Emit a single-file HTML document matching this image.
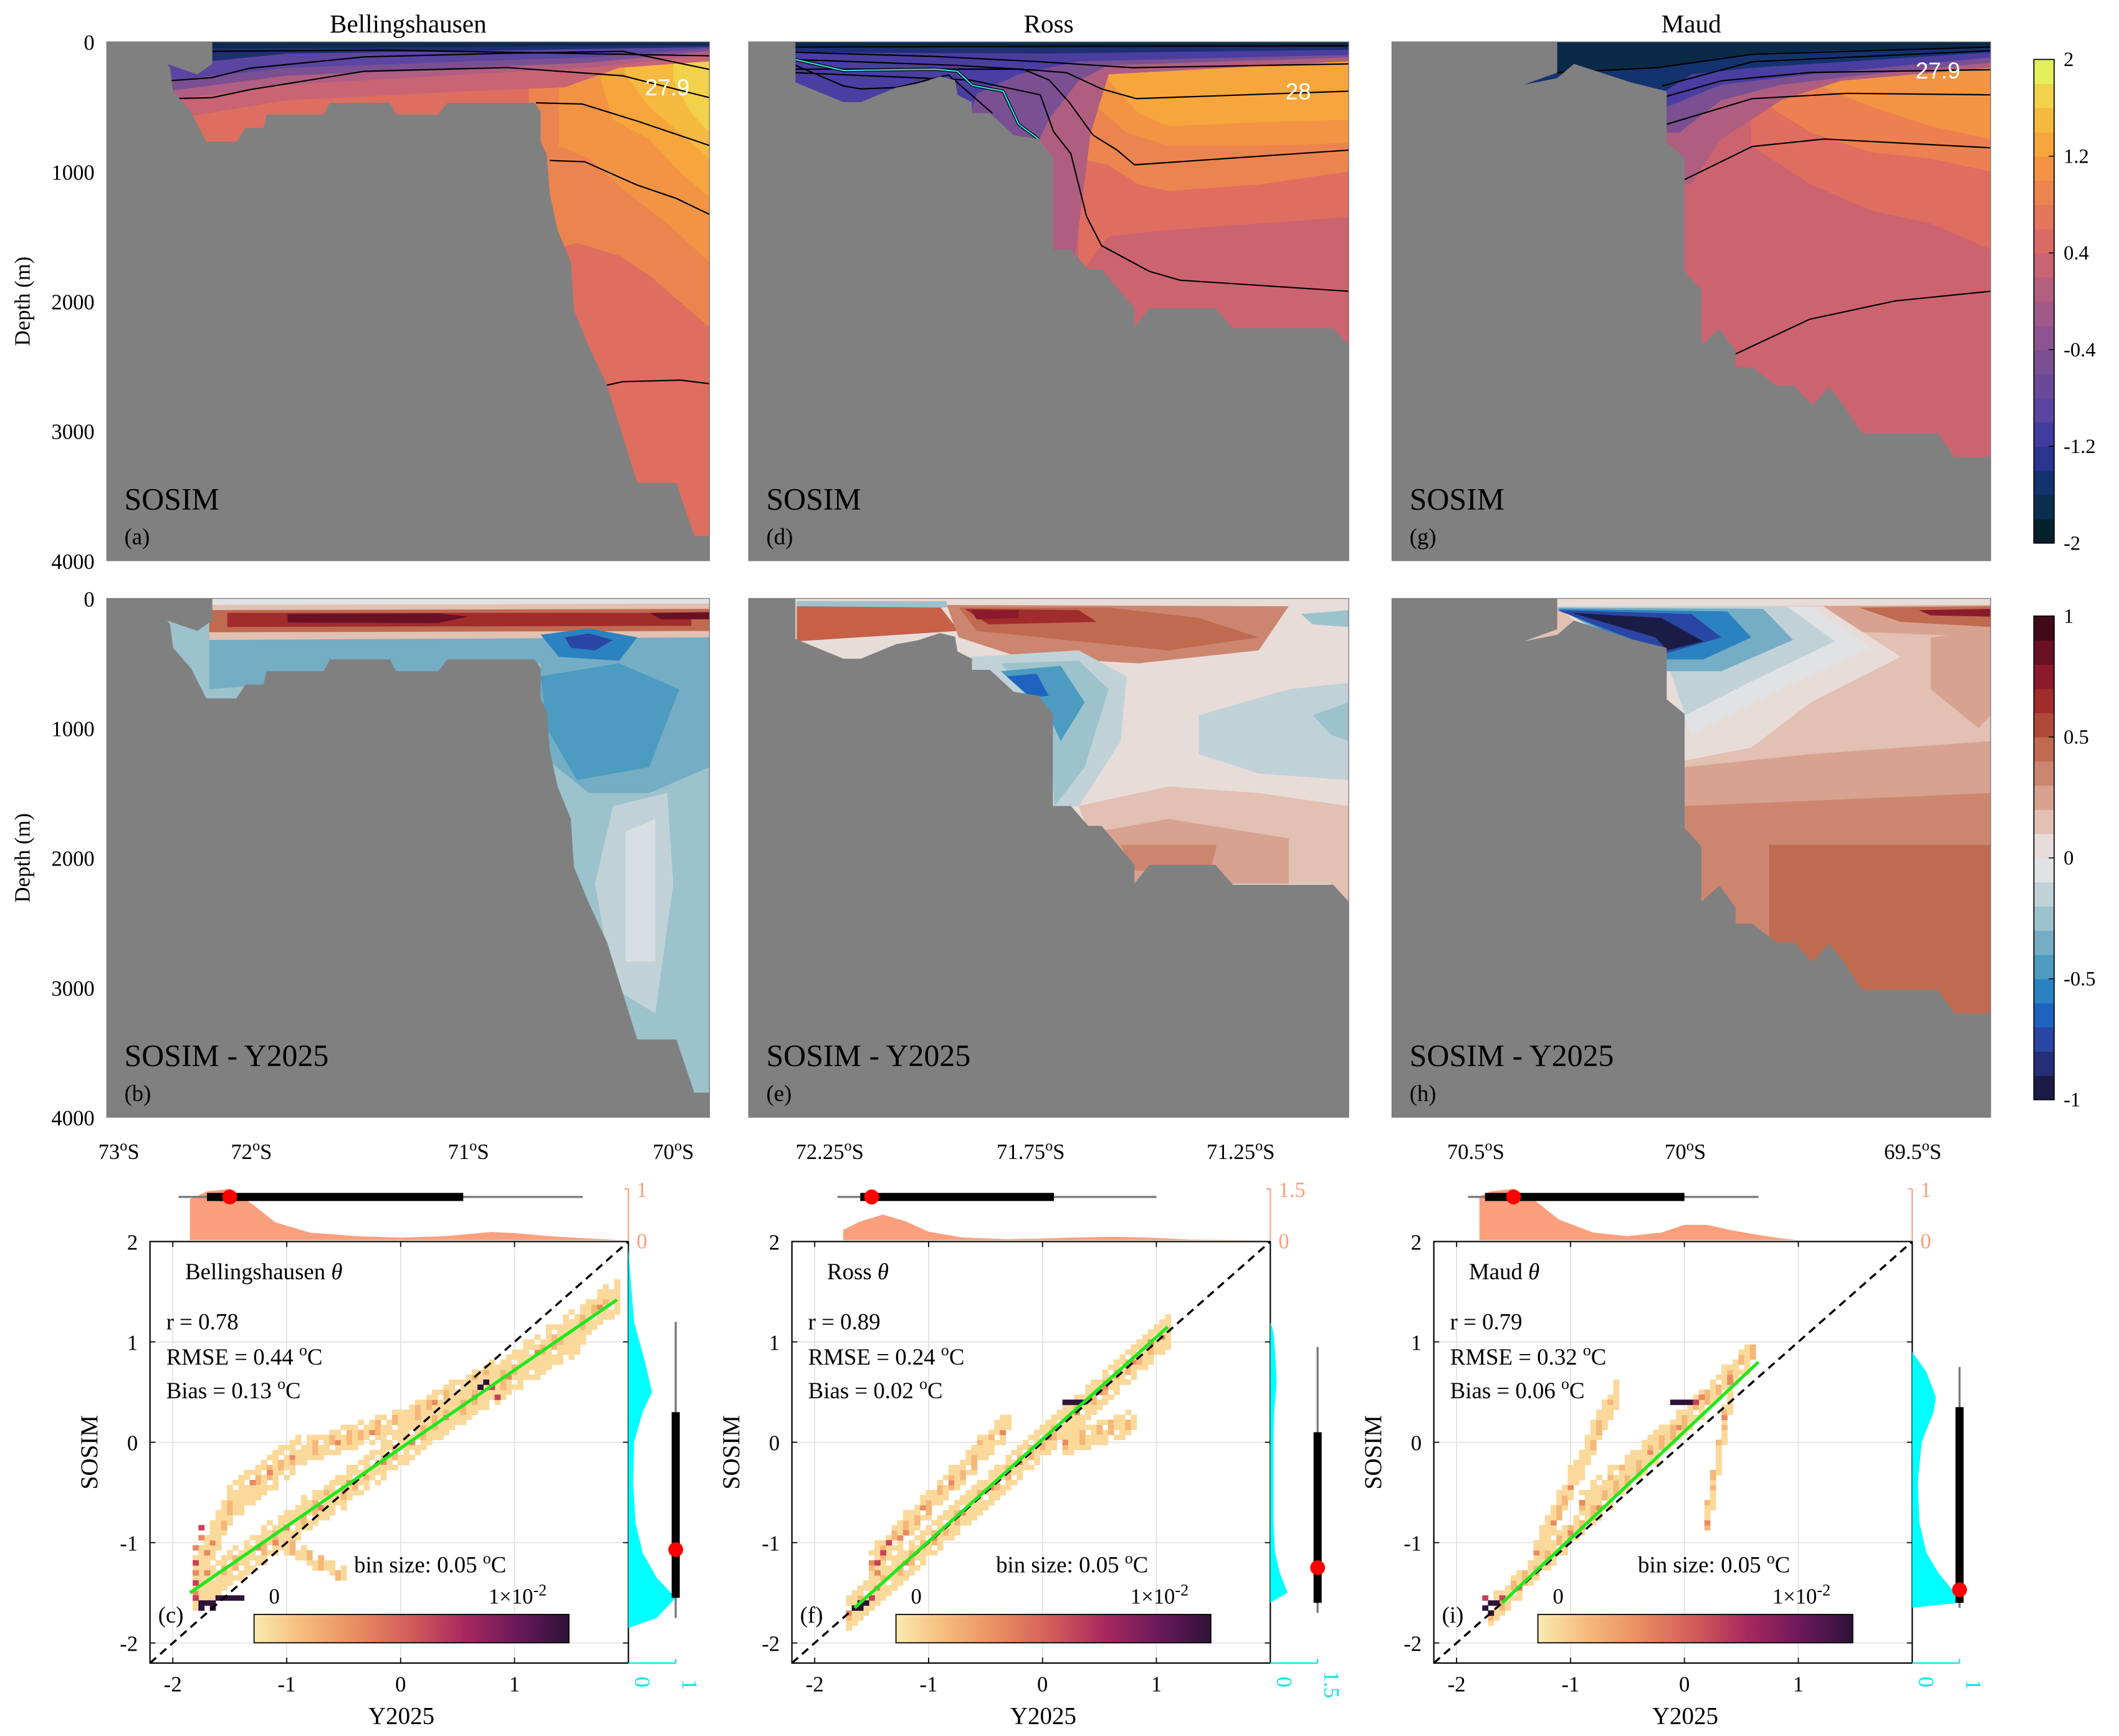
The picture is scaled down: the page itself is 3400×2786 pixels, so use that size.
<!DOCTYPE html>
<html><head><meta charset="utf-8"><title>SOSIM vs Y2025 sections</title>
<style>
html,body{margin:0;padding:0;background:#fff;}
svg{display:block;font-family:"Liberation Serif","DejaVu Serif",serif;}
</style></head>
<body>
<svg id="fig" xmlns="http://www.w3.org/2000/svg" width="3400" height="2786" viewBox="0 0 1568 1285" preserveAspectRatio="none"></svg>
<script>
// ---------------- DATA ----------------
const sectionNames = ["Bellingshausen","Ross","Maud"];
const latTicks = [["73","72","71","70"],["72.25","71.75","71.25"],["70.5","70","69.5"]];
const latTickFx = [[0.02,0.24,0.6,0.94],[0.135,0.47,0.82],[0.14,0.49,0.87]];
const depthTicks = [0,1000,2000,3000,4000];
const thetaCbarLabels = ["2","1.2","0.4","-0.4","-1.2","-2"];
const diffCbarLabels = ["1","0.5","0","-0.5","-1"];
const thermal = ["#04202c","#0a2e4e","#13336e","#2a3590","#423ba0","#5a45a0","#6a4a98","#7a5092","#8c5490","#a05a8a","#b45e80","#c86474","#d96a66","#e4765c","#ec8450","#f29444","#f6a63c","#f6ba40","#f1d24a","#e4f05a"];
const balance = ["#1a1c46","#262e78","#2a46a4","#1c64c0","#2a82c0","#4c9bc0","#74adc4","#9cc2cc","#c0d2d8","#e0e2e4","#e8dcd8","#e2c0b2","#d8a290","#cc8670","#c06a50","#b04a38","#a02c2c","#8a1a2c","#6a1024","#420a18"];

const bathyBell = [[0,0],[0.175,0],[0.175,170],[0.15,250],[0.10,170],[0.105,200],[0.11,380],[0.14,540],[0.165,770],[0.215,770],[0.23,665],[0.26,665],[0.265,560],[0.36,560],[0.37,470],[0.47,470],[0.48,560],[0.55,560],[0.565,470],[0.71,470],[0.72,540],[0.72,770],[0.73,870],[0.735,1170],[0.748,1450],[0.77,1700],[0.775,2070],[0.8,2350],[0.83,2650],[0.88,3400],[0.945,3400],[0.975,3810],[1,3810],[1,4000],[0,4000]];
const bathyRoss = [[0,0],[0.078,0],[0.078,312],[0.158,465],[0.187,465],[0.246,352],[0.282,323],[0.319,267],[0.344,295],[0.348,408],[0.372,465],[0.372,550],[0.402,550],[0.442,720],[0.483,749],[0.507,890],[0.507,1600],[0.537,1600],[0.566,1753],[0.588,1753],[0.643,2054],[0.643,2196],[0.668,2054],[0.778,2054],[0.807,2207],[0.974,2207],[1,2338],[1,4000],[0,4000]];
const bathyMaud = [[0,0],[0.276,0],[0.276,238],[0.22,330],[0.276,280],[0.304,170],[0.399,312],[0.459,380],[0.459,777],[0.489,891],[0.489,1770],[0.517,1912],[0.517,2338],[0.547,2213],[0.574,2383],[0.574,2508],[0.602,2508],[0.642,2650],[0.672,2650],[0.702,2803],[0.730,2660],[0.753,2791],[0.785,3018],[0.912,3018],[0.940,3200],[1,3200],[1,4000],[0,4000]];
const bathy = [bathyBell,bathyRoss,bathyMaud];

const thetaBase = ["#dd6e60","#cc6470","#cc6470"];
const thetaLayersBell = [
 ["#ec8450",[[0.70,450],[0.74,1600],[0.78,1550],[0.85,1650],[0.9,1800],[0.95,2000],[1,2200]]],
 ["#f29444",[[0.75,450],[0.75,800],[0.8,900],[0.86,1150],[0.93,1400],[1,1700]]],
 ["#f6a63c",[[0.82,300],[0.84,600],[0.9,750],[0.95,1000],[1,1200]]],
 ["#f6ba40",[[0.86,250],[0.9,500],[0.95,700],[1,900]]],
 ["#f1d24a",[[0.94,300],[0.97,550],[1,700]]],
 ["#c86474",[[0.1,600],[0.3,450],[0.6,380],[0.76,350],[0.85,200],[1,150]]],
 ["#b05e82",[[0.1,450],[0.3,330],[0.6,250],[0.8,200],[1,100]]],
 ["#7a5092",[[0.1,380],[0.3,260],[0.6,200],[0.8,160],[1,70]]],
 ["#5a45a0",[[0.1,300],[0.3,200],[0.6,150],[0.8,120],[1,50]]],
 ["#1e2f72",[[0.17,150],[0.3,90],[0.6,70],[1,40]]],
 ["#0e2a50",[[0.17,50],[0.6,40],[1,25]]]];
const thetaLayersRoss = [
 ["#df6e60",[[0.55,1800],[0.6,1500],[0.7,1450],[0.85,1400],[1,1350]]],
 ["#ec8450",[[0.55,900],[0.6,950],[0.65,1100],[0.7,1150],[0.85,1100],[1,1000]]],
 ["#f29444",[[0.58,500],[0.63,700],[0.7,800],[0.85,800],[1,780]]],
 ["#f6a63c",[[0.6,300],[0.65,550],[0.7,650],[0.85,620],[1,600]]],
 ["#b05e80",[[0.05,1800],[0.54,1800],[0.57,700],[0.6,250],[1,150]]],
 ["#7a5092",[[0.05,1000],[0.46,1000],[0.5,600],[0.55,300],[0.6,180],[1,120]]],
 ["#4a3ea0",[[0.05,700],[0.36,700],[0.38,400],[0.45,250],[0.55,150],[1,100]]],
 ["#1e2f72",[[0.05,80],[0.5,90],[1,60]]],
 ["#0a2a48",[[0.05,30],[1,40]]]];
const thetaLayersMaud = [
 ["#df6e60",[[0.6,800],[0.7,1100],[0.8,1300],[0.9,1400],[1,1600]]],
 ["#ec8050",[[0.63,500],[0.7,700],[0.8,850],[0.9,900],[1,1000]]],
 ["#f29444",[[0.72,350],[0.8,500],[0.9,650],[1,750]]],
 ["#b05e80",[[0,1100],[0.5,1100],[0.55,750],[0.6,600],[0.65,450],[0.75,300],[1,200]]],
 ["#7a5092",[[0,700],[0.48,700],[0.55,450],[0.65,330],[0.8,250],[1,160]]],
 ["#4a3ea0",[[0,500],[0.46,500],[0.55,330],[0.7,250],[1,120]]],
 ["#13336e",[[0,400],[0.45,400],[0.5,250],[0.6,200],[1,80]]],
 ["#0a2a48",[[0,300],[0.45,200],[0.55,120],[0.7,70],[1,40]]]];
const thetaLayers = [thetaLayersBell,thetaLayersRoss,thetaLayersMaud];

const contoursBell = [
 [[0.175,73],[0.46,64],[1,107]],
 [[0.106,299],[0.174,276],[0.237,203],[0.427,116],[0.665,87],[0.856,73],[1,212]],
 [[0.118,436],[0.174,430],[0.237,369],[0.427,227],[0.665,198],[0.856,261],[1,430]],
 [[0.712,470],[0.789,479],[0.88,610],[1,799]],
 [[0.735,915],[0.793,924],[0.88,1104],[0.944,1205],[1,1330]],
 [[0.828,2649],[0.856,2620],[0.952,2608],[1,2635]]];
const contoursRoss = [
 [[0.078,40],[1,30]],
 [[0.078,80],[0.311,113],[0.486,153],[0.639,199],[1,170]],
 [[0.078,136],[0.348,181],[0.486,221],[0.53,238],[0.588,363],[0.646,437],[1,380]],
 [[0.078,210],[0.457,210],[0.501,295],[0.534,465],[0.574,720],[0.614,834],[0.643,948],[1,834]],
 [[0.078,238],[0.37,295],[0.486,408],[0.508,692],[0.537,862],[0.563,1345],[0.588,1571],[0.668,1770],[0.719,1838],[1,1923]],
 [[0.078,181],[0.158,340],[0.187,363],[0.246,352],[0.333,255],[0.406,550]]];
const contoursMaud = [
 [[0.276,238],[0.443,199],[0.602,96],[1,40]],
 [[0.451,340],[0.602,153],[1,68]],
 [[0.459,420],[0.55,300],[0.7,235],[1,215]],
 [[0.459,635],[0.602,437],[0.761,397],[1,408]],
 [[0.489,1061],[0.602,806],[0.722,749],[1,817]],
 [[0.574,2406],[0.698,2139],[0.841,1997],[1,1923]]];
const contours = [contoursBell,contoursRoss,contoursMaud];
const cyanContourRoss = [[0.078,136],[0.158,221],[0.311,210],[0.348,227],[0.373,335],[0.424,380],[0.45,635],[0.483,749]];
const isoLabels = ["27.9","28","27.9"];
const isoLabelPos = [[0.93,350],[0.916,380],[0.912,221]];

const diffBase = ["#9cc2cc","#e8dcd8","#e2c0b2"];
const diffShapesBell = [
 ["#74adc4",[[0.17,250],[1,250],[1,1300],[0.9,1500],[0.8,1500],[0.72,1200],[0.72,500],[0.17,700]]],
 ["#4c9bc0",[[0.72,600],[0.85,500],[0.95,700],[0.9,1300],[0.78,1400],[0.73,1000]]],
 ["#c0d2d8",[[0.84,1600],[0.93,1500],[0.94,2200],[0.91,3200],[0.84,3000],[0.81,2200]]],
 ["#d8dee2",[[0.86,1800],[0.91,1700],[0.91,2800],[0.86,2800]]],
 ["#e0e2e4",[[0.17,0],[1,0],[1,60],[0.17,60]]],
 ["#e2c0b2",[[0.17,50],[1,40],[1,300],[0.17,320]]],
 ["#c06a50",[[0.17,90],[1,80],[1,250],[0.17,260]]],
 ["#a02c2c",[[0.2,110],[0.97,110],[0.97,210],[0.2,220]]],
 ["#6a1024",[[0.3,120],[0.55,115],[0.6,140],[0.55,190],[0.3,185]]],
 ["#6a1024",[[0.9,110],[1,105],[1,160],[0.92,160]]],
 ["#2a82c0",[[0.72,280],[0.8,230],[0.88,300],[0.85,480],[0.75,450]]],
 ["#2a46a4",[[0.76,300],[0.8,270],[0.84,320],[0.81,400],[0.77,380]]]];
const diffShapesRoss = [
 ["#9cc2cc",[[0.08,20],[0.33,20],[0.33,70],[0.08,70]]],
 ["#c86048",[[0.08,60],[0.32,70],[0.35,250],[0.08,330]]],
 ["#cc8670",[[0.33,50],[0.9,60],[0.85,400],[0.65,500],[0.45,450],[0.35,300]]],
 ["#c06a50",[[0.35,70],[0.6,70],[0.75,150],[0.85,300],[0.7,400],[0.55,330],[0.38,250]]],
 ["#a02c2c",[[0.36,80],[0.55,90],[0.58,180],[0.4,200]]],
 ["#8a1a2c",[[0.37,90],[0.45,90],[0.45,150],[0.38,160]]],
 ["#c0d2d8",[[0.37,450],[0.55,400],[0.63,600],[0.62,1100],[0.55,1600],[0.5,1600],[0.37,600]]],
 ["#9cc2cc",[[0.42,500],[0.55,480],[0.6,700],[0.56,1300],[0.51,1600],[0.5,900]]],
 ["#4c9bc0",[[0.42,560],[0.52,520],[0.56,800],[0.52,1100],[0.5,900]]],
 ["#1c64c0",[[0.43,600],[0.48,580],[0.5,750],[0.47,760]]],
 ["#c0d2d8",[[0.75,900],[0.9,700],[1,650],[1,1400],[0.85,1350],[0.75,1200]]],
 ["#9cc2cc",[[0.94,900],[1,800],[1,1100],[0.97,1050]]],
 ["#9cc2cc",[[0.92,120],[1,90],[1,220],[0.94,200]]],
 ["#e2c0b2",[[0.55,1600],[0.7,1450],[0.85,1500],[1,1600],[1,2400],[0.97,2200],[0.6,2200]]],
 ["#d8a290",[[0.58,1800],[0.7,1700],[0.9,1850],[0.9,2200],[0.6,2200]]],
 ["#cc8670",[[0.62,1900],[0.78,1900],[0.77,2100],[0.64,2100]]]];
const diffShapesMaud = [
 ["#e8dcd8",[[0.276,0],[1,0],[1,60],[0.276,60]]],
 ["#d8a290",[[0.6,60],[1,50],[1,300],[0.75,250]]],
 ["#c06a50",[[0.78,70],[1,60],[1,220],[0.85,180]]],
 ["#8a1a2c",[[0.88,90],[1,80],[1,140],[0.9,130]]],
 ["#d8a290",[[0.9,300],[1,250],[1,900],[0.98,1000],[0.9,700]]],
 ["#e8dcd8",[[0.276,60],[0.72,60],[0.85,450],[0.7,800],[0.6,1150],[0.489,1250],[0.489,900]]],
 ["#e0e2e4",[[0.276,60],[0.7,60],[0.8,380],[0.65,700],[0.5,1050],[0.46,500]]],
 ["#c0d2d8",[[0.276,60],[0.66,60],[0.74,330],[0.6,640],[0.49,900],[0.46,500]]],
 ["#74adc4",[[0.276,70],[0.62,80],[0.67,320],[0.55,560],[0.46,560]]],
 ["#2a82c0",[[0.276,80],[0.56,100],[0.6,300],[0.52,470],[0.46,470]]],
 ["#2a46a4",[[0.276,90],[0.5,120],[0.55,300],[0.46,420]]],
 ["#1a1c46",[[0.3,110],[0.45,150],[0.52,330],[0.46,400],[0.44,300]]],
 ["#d8a290",[[0.489,1300],[0.7,1200],[1,1100],[1,1500],[0.489,1600]]],
 ["#cc8670",[[0.489,1600],[1,1500],[1,3300],[0.489,3300]]],
 ["#c06a50",[[0.63,1900],[1,1900],[1,3300],[0.63,3300]]]];
const diffShapes = [diffShapesBell,diffShapesRoss,diffShapesMaud];

const statR = ["0.78","0.89","0.79"];
const statRMSE = ["0.44","0.24","0.32"];
const statBias = ["0.13","0.02","0.06"];
const fitLines = [[-1.85,-1.5,1.9,1.42],[-1.65,-1.65,1.1,1.15],[-1.6,-1.6,0.65,0.8]];
const tracksBell = [[-1.8,-1.5,1.9,1.45,3,0],[-1.8,-1.35,-1.5,-0.6,3,0],[-1.5,-0.6,-0.9,-0.1,3,0],[-0.9,-0.1,0.0,0.2,2,0],[0.0,0.2,0.8,0.7,2,0],[-1.1,-1.0,-0.5,-1.3,1,0],[0.3,0.2,1.6,1.1,3,0]];
const tracksRoss = [[-1.7,-1.7,1.1,1.1,3,0],[-1.5,-1.2,-0.3,0.2,2,0],[0.2,0.0,0.8,0.2,2,0]];
const tracksMaud = [[-1.7,-1.7,0.6,0.9,2,0],[-1.3,-1.1,-0.6,0.5,2,0],[0.2,-0.8,0.4,0.5,1,0],[-0.9,-0.6,0.0,0.2,2,0]];
const tracks = [tracksBell,tracksRoss,tracksMaud];
const hotBell = [[-1.75,-1.6,4],[-1.7,-1.6,4],[-1.65,-1.6,4],[-1.6,-1.55,4],[-1.55,-1.55,4],[-1.5,-1.55,4],[-1.45,-1.55,4],[-1.4,-1.55,4],[-1.75,-1.65,4],[-1.65,-1.65,4],[-1.8,-1.55,3],[-1.8,-1.4,3],[-1.8,-1.3,2],[-1.8,-1.2,3],[-1.8,-1.05,2],[-1.75,-0.85,3],[-1.75,-0.95,2],[-1.7,-1.3,2],[-1.7,-1.1,2],[0.7,0.55,4],[0.75,0.6,4],[0.85,0.45,3],[0.8,0.55,3],[-1.15,-0.3,2],[-1.3,-0.4,2]];
const hotRoss = [[-1.65,-1.65,4],[-1.6,-1.6,4],[-1.55,-1.6,4],[-1.6,-1.65,4],[-1.5,-1.55,3],[-1.45,-1.2,3],[-1.4,-1.1,3],[-1.35,-1.0,3],[-1.45,-1.3,2],[0.2,0.4,4],[0.25,0.4,4],[0.3,0.4,4],[0.35,0.4,4],[0.5,0.5,2],[0.95,1.0,2],[-1.2,-0.9,2]];
const hotMaud = [[-1.75,-1.65,4],[-1.7,-1.6,4],[-1.65,-1.6,4],[-1.7,-1.7,4],[-1.6,-1.55,3],[-1.75,-1.55,3],[-0.1,0.4,4],[-0.05,0.4,4],[0.0,0.4,4],[0.05,0.4,4],[0.1,0.4,3],[0.15,0.45,2],[0.4,0.6,2]];
const hotCells = [hotBell,hotRoss,hotMaud];
const densityColors = ["#fbd99a","#f5b878","#e88a60","#c83f5a","#2e1238"];

const topMaxLabel = ["1","1.5","1"];
const topMax = [1,1.5,1];
const rightMaxLabel = ["1","1.5","1"];
const rightMax = [1,1.5,1];
const topBox = [[-1.95,-1.7,-1.5,0.55,1.6],[-1.8,-1.6,-1.5,0.1,1.0],[-1.9,-1.75,-1.5,0.0,0.65]];
const rightBox = [[-1.75,-1.55,-1.07,0.3,1.2],[-1.7,-1.6,-1.25,0.1,0.95],[-1.65,-1.6,-1.47,0.35,0.75]];
const topDensX = [[-1.85,-1.7,-1.5,-1.3,-1.1,-0.8,-0.4,0,0.4,0.6,0.8,1.0,1.3,1.6,1.95],
                  [-1.75,-1.6,-1.4,-1.2,-1.0,-0.7,-0.3,0,0.3,0.6,0.9,1.1,1.3,1.95],
                  [-1.8,-1.7,-1.5,-1.3,-1.1,-0.8,-0.5,-0.2,0,0.2,0.4,0.6,0.8,1.0]];
const topDensV = [[0.8,0.95,1.0,0.7,0.35,0.15,0.08,0.05,0.08,0.12,0.16,0.14,0.08,0.04,0.0],
                  [0.3,0.55,0.75,0.55,0.25,0.08,0.03,0.05,0.08,0.1,0.08,0.05,0.02,0.0],
                  [0.85,0.95,1.0,0.75,0.4,0.15,0.08,0.15,0.3,0.3,0.2,0.12,0.05,0.0]];
const rightDensY = [[-1.85,-1.75,-1.55,-1.35,-1.1,-0.8,-0.4,0,0.3,0.5,0.8,1.2,1.6,1.95],
                    [-1.6,-1.5,-1.3,-1.1,-0.8,-0.4,0,0.3,0.6,0.9,1.1,1.2],
                    [-1.65,-1.6,-1.5,-1.3,-1.1,-0.8,-0.4,0,0.3,0.45,0.7,0.9]];
const rightDensV = [[0.0,0.6,1.0,0.6,0.3,0.15,0.1,0.12,0.3,0.5,0.35,0.12,0.05,0.0],
                    [0.0,0.55,0.3,0.15,0.1,0.1,0.1,0.12,0.2,0.15,0.1,0.0],
                    [0.0,1.0,0.9,0.55,0.3,0.15,0.12,0.2,0.45,0.5,0.3,0.0]];

// ---------------- LAYOUT ----------------
const NS = "http://www.w3.org/2000/svg";
const svg = document.getElementById("fig");
const colX = [79,554,1030], colW = [446,444,443];
const rowY = [31,443], rowH = 384;
const axX = [111,586,1061], axW = 354, axY = 919, axH = 312;
function mk(tag, attrs, parent){
  const e = document.createElementNS(NS, tag);
  for (const k in attrs) e.setAttribute(k, attrs[k]);
  (parent||svg).appendChild(e);
  return e;
}
function txt(str, x, y, size, anchor, parent, extra){
  const t = mk("text", Object.assign({x:x, y:y, "font-size":size, "text-anchor":anchor||"start", fill:"#000"}, extra||{}), parent);
  t.textContent = str;
  return t;
}
function supTxt(base, sup, rest, x, y, size, anchor, parent, fill){
  const t = mk("text", {x:x, y:y, "font-size":size, "text-anchor":anchor||"start", fill:fill||"#000"}, parent);
  const a = mk("tspan", {}, t); a.textContent = base;
  const b = mk("tspan", {dy:-size*0.4, "font-size":size*0.7}, t); b.textContent = sup;
  const c = mk("tspan", {dy:size*0.4}, t); c.textContent = rest;
  return t;
}

for (let c=0;c<3;c++){
  for (let r=0;r<2;r++){
    const x0=colX[c], w=colW[c], y0=rowY[r];
    const X = f => x0 + f*w;
    const Y = d => y0 + d/4000*rowH;
    const pts = arr => arr.map(p=>X(p[0]).toFixed(1)+","+Y(p[1]).toFixed(1)).join(" ");
    const g = mk("g", {});
    
    
    const cp = mk("clipPath", {id:"clip"+c+r}, g);
    mk("rect", {x:x0, y:y0, width:w, height:rowH}, cp);
    const inner = mk("g", {"clip-path":"url(#clip"+c+r+")"}, g);
    mk("rect", {x:x0, y:y0, width:w, height:rowH, fill: r===0?thetaBase[c]:diffBase[c]}, inner);
    if (r===0){
      thetaLayers[c].forEach(L=>{
        const curve = L[1];
        const poly = [[curve[0][0],0]].concat(curve).concat([[curve[curve.length-1][0],0]]);
        const p = mk("polygon", {points:pts(poly), fill:L[0]}, inner);
        
        
      });
      contours[c].forEach(line=>{
        const pl = mk("polyline", {points:pts(line), fill:"none", stroke:"#000", "stroke-width":1}, inner);
        
        
      });
      if (c===1){
        mk("polyline", {points:pts(cyanContourRoss), fill:"none", stroke:"#000", "stroke-width":2.2}, inner);
        const cy2 = mk("polyline", {points:pts(cyanContourRoss), fill:"none", stroke:"#2ee6e6", "stroke-width":1}, inner);
        
        
      }
    } else {
      diffShapes[c].forEach(S=>{
        const p = mk("polygon", {points:pts(S[1]), fill:S[0]}, inner);
        
        
      });
    }
    const gb = mk("polygon", {points:pts(bathy[c]), fill:"#808080"}, inner);
    
    
    if (r===0){
      const lp = isoLabelPos[c];
      const il = txt(isoLabels[c], X(lp[0]), Y(lp[1])+6, 17, "middle", g, {fill:"#fff", "font-family":"Liberation Sans, sans-serif"});
      
      
    }
    mk("rect", {x:x0, y:y0, width:w, height:rowH, fill:"none", stroke:"#777", "stroke-width":0.6}, g);
    const lab = txt(r===0?"SOSIM":"SOSIM - Y2025", x0+13, y0+346, 23, "start", g);
    
    
    const pl = txt("("+"adgbeh"[c+3*r]+")", x0+13, y0+372, 17, "start", g);
    
    
    if (c===0){
      depthTicks.forEach(d=>{
        const tl = txt(String(d), x0-9, Y(d)+6, 16, "end", g);
        
        
      });
      const yl = txt("Depth (m)", 0, 0, 16, "middle", g, {transform:"translate(22,"+(y0+rowH/2)+") rotate(-90)"});
      
      
    }
    if (r===0){
      const tt = txt(sectionNames[c], x0+w/2, 24, 19, "middle", g);
      
      
    } else {
      latTicks[c].forEach((lab,i)=>{
        const lt = supTxt(lab, "o", "S", X(latTickFx[c][i]), 858, 16, "middle", g);
        
        
      });
    }
  }
}

function colorbar(colors, labels, y0, y1, name){
  const g = mk("g", {});
  
  
  const n = colors.length, h = (y1-y0)/n;
  colors.forEach((col,i)=>{
    mk("rect", {x:1505, y:(y1-(i+1)*h).toFixed(2), width:15, height:(h+0.3).toFixed(2), fill:col}, g);
  });
  mk("rect", {x:1505, y:y0, width:15, height:y1-y0, fill:"none", stroke:"#000", "stroke-width":0.8}, g);
  labels.forEach((l,i)=>{
    const yy = y0 + i*(y1-y0)/(labels.length-1);
    mk("line", {x1:1516, x2:1520, y1:yy, y2:yy, stroke:"#000", "stroke-width":0.7}, g);
    const t = txt(l, 1527, yy+5, 15, "start", g);
    
    
  });
}
colorbar(thermal, thetaCbarLabels, 44, 402, "theta-colorbar");
colorbar(balance, diffCbarLabels, 456, 814, "diff-colorbar");

const xTicks = [-2,-1,0,1], yTicks = [2,1,0,-1,-2];
for (let c=0;c<3;c++){
  const ax0 = axX[c];
  const sx = v => ax0 + (v+2.2)/4.2*axW;
  const sy = v => axY + (2-v)/4.2*axH;
  const g = mk("g", {});
  
  
  mk("rect", {x:ax0, y:axY, width:axW, height:axH, fill:"#fff"}, g);
  xTicks.forEach(v=>{
    mk("line", {x1:sx(v), x2:sx(v), y1:axY, y2:axY+axH, stroke:"#e2e2e2", "stroke-width":0.8}, g);
    mk("line", {x1:sx(v), x2:sx(v), y1:axY+axH, y2:axY+axH-4, stroke:"#000", "stroke-width":0.8}, g);
    mk("line", {x1:sx(v), x2:sx(v), y1:axY, y2:axY+4, stroke:"#000", "stroke-width":0.8}, g);
    const t = txt(String(v), sx(v), axY+axH+21, 16, "middle", g);
    
    
  });
  yTicks.forEach(v=>{
    mk("line", {x1:ax0, x2:ax0+axW, y1:sy(v), y2:sy(v), stroke:"#e2e2e2", "stroke-width":0.8}, g);
    mk("line", {x1:ax0, x2:ax0+4, y1:sy(v), y2:sy(v), stroke:"#000", "stroke-width":0.8}, g);
    mk("line", {x1:ax0+axW, x2:ax0+axW-4, y1:sy(v), y2:sy(v), stroke:"#000", "stroke-width":0.8}, g);
    const t = txt(String(v), ax0-9, sy(v)+6, 16, "end", g);
    
    
  });
  const bw = 0.05*axW/4.2, bh = 0.05*axH/4.2;
  const seen = {};
  tracks[c].forEach(T=>{
    const [x0,y0,x1,y1,hw] = T;
    const steps = Math.round(Math.hypot(x1-x0,y1-y0)/0.05);
    for (let i=0;i<=steps;i++){
      const xc = x0+(x1-x0)*i/steps, yc = y0+(y1-y0)*i/steps;
      for (let k=-hw;k<=hw;k++){
        if ((i+k*3)%4===3 && k!==0) continue;
        const bx = Math.round(xc/0.05), by = Math.round((yc+k*0.05)/0.05);
        const key = bx+"_"+by;
        if (seen[key]) continue;
        seen[key]=1;
        let lvl = (Math.abs(k)<=1 && (i%3===0)) ? 1 : 0;
        if (k===0 && i%7===0) lvl = 2;
        const cell = mk("rect", {x:sx(bx*0.05)-bw/2, y:sy(by*0.05)-bh/2, width:bw+0.3, height:bh+0.3, fill:densityColors[lvl]}, g);
        
        
      }
    }
  });
  hotCells[c].forEach(h=>{
    const cell = mk("rect", {x:sx(h[0])-bw/2, y:sy(h[1])-bh/2, width:bw+0.3, height:bh+0.3, fill:densityColors[h[2]]}, g);
    
    
  });
  const one = mk("line", {x1:sx(-2.2), y1:sy(-2.2), x2:sx(2), y2:sy(2), stroke:"#000", "stroke-width":1.6, "stroke-dasharray":"6,4"}, g);
  
  
  const F = fitLines[c];
  const fit = mk("line", {x1:sx(F[0]), y1:sy(F[1]), x2:sx(F[2]), y2:sy(F[3]), stroke:"#1ee81e", "stroke-width":2.4}, g);
  
  
  mk("rect", {x:ax0, y:axY, width:axW, height:axH, fill:"none", stroke:"#000", "stroke-width":1}, g);
  const ttl = mk("text", {x:ax0+26, y:axY+28, "font-size":17, fill:"#000"}, g);
  ttl.textContent = sectionNames[c]+" ";
  const th = mk("tspan", {"font-style":"italic"}, ttl); th.textContent = "θ";
  
  
  const rt = txt("r = "+statR[c], ax0+12, axY+65, 17, "start", g);
  
  
  const rm = supTxt("RMSE = "+statRMSE[c]+" ", "o", "C", ax0+12, axY+91, 17, "start", g);
  
  
  const bi = supTxt("Bias = "+statBias[c]+" ", "o", "C", ax0+12, axY+116, 17, "start", g);
  
  
  const bs = supTxt("bin size: 0.05 ", "o", "C", ax0+151, axY+245, 17, "start", g);
  
  
  const pl = txt("("+"cfi"[c]+")", ax0+6, axY+282, 17, "start", g);
  
  
  const gid = "dens"+c;
  const lg = mk("linearGradient", {id:gid, x1:0, x2:1, y1:0, y2:0}, g);
  ["#fbeab0","#f5b878","#e88a60","#d25a5a","#a8285e","#6a1a5a","#2e1238"].forEach((col,i,a)=>{
    mk("stop", {offset:(i/(a.length-1)), "stop-color":col}, lg);
  });
  const cb = mk("rect", {x:ax0+77, y:axY+276, width:233, height:21, fill:"url(#"+gid+")", stroke:"#000", "stroke-width":0.8}, g);
  
  
  const z = txt("0", ax0+92, axY+268, 16, "middle", g);
  
  
  const mx = mk("text", {x:ax0+272, y:axY+268, "font-size":16, "text-anchor":"middle"}, g);
  const m1 = mk("tspan", {}, mx); m1.textContent = "1×10";
  const m2 = mk("tspan", {dy:-6, "font-size":12}, mx); m2.textContent = "-2";
  
  
  const xl = txt("Y2025", ax0+186, 1276, 18, "middle", g);
  
  
  const yl = txt("SOSIM", 0, 0, 18, "middle", g, {transform:"translate("+(ax0-39)+","+(axY+axH/2)+") rotate(-90)"});
  
  

  const tBase = 918, tTop = 880;
  const ty = v => tBase - v/topMax[c]*(tBase-tTop);
  const dX = topDensX[c], dV = topDensV[c];
  let p = "M"+sx(dX[0])+","+tBase;
  dX.forEach((v,i)=>{ p += " L"+sx(v).toFixed(1)+","+ty(dV[i]).toFixed(1); });
  p += " L"+sx(dX[dX.length-1])+","+tBase+" Z";
  const td = mk("path", {d:p, fill:"#fba07d"}, g);
  
  
  const B = topBox[c], by = 886;
  mk("line", {x1:sx(B[0]), x2:sx(B[4]), y1:by, y2:by, stroke:"#777", "stroke-width":1.5}, g);
  const tb = mk("rect", {x:sx(B[1]), y:by-3, width:sx(B[3])-sx(B[1]), height:6, fill:"#000"}, g);
  
  
  const tm = mk("circle", {cx:sx(B[2]), cy:by, r:5.5, fill:"#f00"}, g);
  
  
  const rax = ax0+axW;
  mk("line", {x1:rax, x2:rax, y1:tTop, y2:tBase, stroke:"#fba07d", "stroke-width":1}, g);
  mk("line", {x1:rax, x2:rax-3, y1:tTop, y2:tTop, stroke:"#fba07d", "stroke-width":1}, g);
  const l1 = txt(topMaxLabel[c], rax+6, tTop+6, 16, "start", g, {fill:"#fba07d"});
  
  
  const l0 = txt("0", rax+6, tBase+6, 16, "start", g, {fill:"#fba07d"});
  
  

  const rL = rax, rR = rax+35;
  const rx = v => rL + v/rightMax[c]*(rR-rL);
  const rY = rightDensY[c], rV = rightDensV[c];
  let q = "M"+rL+","+sy(rY[0]);
  rY.forEach((v,i)=>{ q += " L"+rx(rV[i]).toFixed(1)+","+sy(v).toFixed(1); });
  q += " L"+rL+","+sy(rY[rY.length-1])+" Z";
  const rd = mk("path", {d:q, fill:"#00ffff"}, g);
  
  
  const RB = rightBox[c], bx = rR;
  mk("line", {x1:bx, x2:bx, y1:sy(RB[0]), y2:sy(RB[4]), stroke:"#777", "stroke-width":1.5}, g);
  const rb = mk("rect", {x:bx-3, y:sy(RB[3]), width:6, height:sy(RB[1])-sy(RB[3]), fill:"#000"}, g);
  
  
  const rm2 = mk("circle", {cx:bx, cy:sy(RB[2]), r:5.5, fill:"#f00"}, g);
  
  
  const cyY = axY+axH;
  mk("line", {x1:rL, x2:rR, y1:cyY, y2:cyY, stroke:"#00e5e5", "stroke-width":1}, g);
  mk("line", {x1:rR, x2:rR, y1:cyY, y2:cyY-3, stroke:"#00e5e5", "stroke-width":1}, g);
  const c0 = txt("0", 0, 0, 16, "middle", g, {fill:"#00e5e5", transform:"translate("+(rL+5)+","+(cyY+14)+") rotate(90)"});
  
  
  const c1 = txt(rightMaxLabel[c], 0, 0, 16, "middle", g, {fill:"#00e5e5", transform:"translate("+(rR+5)+","+(cyY+16)+") rotate(90)"});
  
  
}
</script>
</body></html>
